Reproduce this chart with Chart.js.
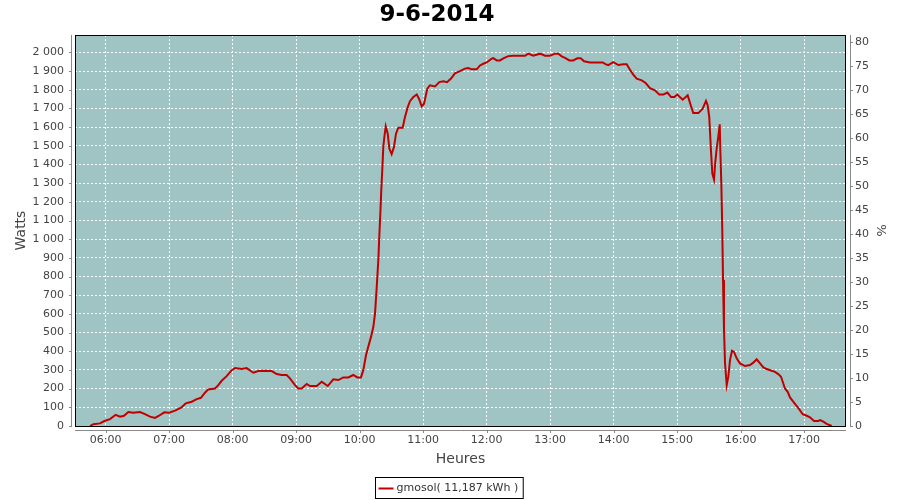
<!DOCTYPE html>
<html>
<head>
<meta charset="utf-8">
<script src="https://cdn.jsdelivr.net/npm/chart.js@4/dist/chart.umd.min.js"></script>
<style>
html,body{margin:0;padding:0;background:#fff;}
#wrap{position:relative;width:900px;height:500px;}
</style>
</head>
<body>
<div id="wrap"><canvas id="c" width="900" height="500"></canvas></div>
<script>
// ---- data ----
const chartTitle = '9-6-2014';
const seriesName = 'gmosol( 11,187 kWh )';
const xAxisTitle = 'Heures';
const yAxisTitle = 'Watts';
const y2AxisTitle = '%';

// time of each sample, in minutes since midnight
const timeMin = [
  345.2, 348.3, 354.6, 359.3, 364.1, 369.4, 373.5, 377.3, 381.4, 386.1,
  392.4, 397.1, 401.9, 406.6, 410.4, 415.4, 419.8, 425.5, 431.2, 435.6,
  441.3, 446.0, 450.0, 453.8, 456.9, 463.3, 466.4, 469.6, 474.3, 479.1,
  482.2, 488.5, 493.2, 499.5, 504.2, 509.9, 516.9, 521.6, 526.3, 531.0,
  534.1, 538.9, 542.0, 545.2, 549.9, 553.0, 559.4, 564.1, 569.8, 575.1,
  579.8, 584.5, 589.2, 594.0, 597.7, 601.2, 603.4, 606.0, 608.1, 610.7,
  612.9, 614.5, 616.1, 617.6, 618.5, 619.5, 620.4, 621.4, 622.3, 623.3,
  624.6, 626.5, 628.0, 630.2, 632.4, 634.3, 636.5, 640.6, 642.8, 645.4,
  647.5, 650.7, 653.9, 656.0, 658.6, 660.8, 663.9, 666.4, 671.2, 675.2,
  679.0, 682.5, 686.3, 690.0, 694.7, 699.4, 702.6, 705.8, 710.5, 713.7,
  716.8, 720.0, 724.7, 726.2, 729.5, 732.6, 735.7, 740.4, 745.1, 756.2,
  759.3, 764.0, 770.4, 775.1, 779.8, 784.6, 787.7, 790.9, 794.0, 798.1,
  801.8, 805.6, 808.8, 812.0, 817.6, 829.6, 832.7, 834.9, 839.6, 844.4,
  849.1, 852.3, 855.4, 858.5, 861.7, 866.5, 870.2, 874.3, 879.0, 883.1,
  886.9, 890.7, 894.2, 897.3, 900.1, 905.2, 909.9, 912.8, 915.2, 920.0,
  924.1, 927.2, 928.8, 930.3, 931.9, 933.2, 934.8, 936.0, 937.3, 938.8,
  940.2, 940.7, 941.7, 942.6, 943.3, 944.2, 945.2, 946.8, 948.3, 949.9,
  951.8, 953.7, 956.2, 959.3, 964.1, 968.8, 971.9, 975.1, 978.3, 981.4,
  984.6, 989.3, 992.4, 995.5, 998.1, 999.7, 1001.8, 1004.4, 1006.6, 1009.1,
  1012.2, 1015.4, 1018.6, 1022.4, 1025.5, 1029.3, 1033.3, 1035.0, 1038.1, 1041.3,
  1046.0
];

const watts = [
  0, 10, 14, 28, 37, 60, 50, 55, 75, 71,
  75, 64, 50, 43, 55, 73, 71, 82, 98, 121,
  130, 144, 151, 178, 196, 201, 219, 242, 267, 299,
  310, 305, 310, 285, 294, 296, 294, 278, 273, 273,
  255, 219, 201, 201, 225, 214, 214, 237, 214, 250,
  246, 260, 260, 273, 260, 260, 299, 380, 424, 477,
  531, 603, 745, 888, 1012, 1137, 1262, 1378, 1494, 1547,
  1604, 1565, 1485, 1455, 1494, 1565, 1597, 1597, 1654, 1707,
  1739, 1761, 1775, 1752, 1711, 1725, 1806, 1824, 1818, 1841,
  1845, 1840, 1860, 1888, 1900, 1913, 1916, 1909, 1909, 1930,
  1939, 1946, 1966, 1969, 1957, 1957, 1968, 1980, 1982, 1982,
  1993, 1982, 1993, 1982, 1982, 1993, 1993, 1979, 1971, 1957,
  1957, 1968, 1968, 1952, 1946, 1946, 1936, 1932, 1948, 1932,
  1936, 1936, 1907, 1881, 1859, 1850, 1836, 1809, 1797, 1774,
  1774, 1785, 1761, 1761, 1774, 1747, 1770, 1717, 1675, 1675,
  1699, 1740, 1717, 1654, 1476, 1351, 1319, 1413, 1485, 1547,
  1615, 1485, 1298, 1048, 781, 522, 335, 219, 264, 353,
  403, 397, 362, 335, 321, 326, 339, 357, 335, 314,
  305, 296, 290, 278, 264, 237, 201, 183, 153, 134,
  112, 89, 63, 55, 47, 27, 27, 32, 23, 11,
  0
];

// axis ticks
const hourTicks = [6, 7, 8, 9, 10, 11, 12, 13, 14, 15, 16, 17];
const wattTicks = [0, 100, 200, 300, 400, 500, 600, 700, 800, 900, 1000,
  1100, 1200, 1300, 1400, 1500, 1600, 1700, 1800, 1900, 2000];
const percentTicks = [0, 5, 10, 15, 20, 25, 30, 35, 40, 45, 50, 55, 60, 65, 70, 75, 80];
const xMinMinutes = 331;
const xMaxMinutes = 1059.5;
const wattMax = 2093;
const percentMax = 81.5;

// ---- helpers ----
const pad2 = n => (n < 10 ? '0' : '') + n;
const fmtWatts = v => {
  v = Math.round(v);
  if (v >= 1000) {
    const r = v % 1000;
    return Math.floor(v / 1000) + ' ' + (r < 10 ? '00' : r < 100 ? '0' : '') + r;
  }
  return String(v);
};

const FONT = 'DejaVu Sans';
const TICK_COLOR = '#444444';
const PLOT_BG = '#9fc4c3';
const LINE_COLOR = '#c00000';

const decorPlugin = {
  id: 'decor',
  beforeDraw(chart) {
    const {ctx, chartArea: a} = chart;
    ctx.save();
    ctx.fillStyle = PLOT_BG;
    ctx.fillRect(a.left, a.top, a.right - a.left, a.bottom - a.top);
    ctx.restore();
  },
  afterDraw(chart) {
    const {ctx, chartArea: a} = chart;
    const sx = chart.scales.x, sy = chart.scales.y, sy2 = chart.scales.y1;
    ctx.save();
    // plot outline
    ctx.strokeStyle = '#000';
    ctx.lineWidth = 1;
    ctx.strokeRect(a.left + 0.5, a.top + 0.5, a.right - a.left - 1, a.bottom - a.top);
    // offset axis lines
    ctx.strokeStyle = '#888888';
    ctx.beginPath();
    const lx = a.left - 3.5, rx = a.right + 4.5, by = a.bottom + 4.5;
    ctx.moveTo(lx, a.top); ctx.lineTo(lx, a.bottom + 1);
    ctx.moveTo(rx, a.top); ctx.lineTo(rx, a.bottom + 1);
    ctx.moveTo(a.left, by); ctx.lineTo(a.right, by);
    sy.ticks.forEach(t => {
      const p = Math.round(sy.getPixelForValue(t.value)) + 0.5;
      ctx.moveTo(lx - 2.5, p); ctx.lineTo(lx, p);
    });
    sy2.ticks.forEach(t => {
      const p = Math.round(sy2.getPixelForValue(t.value)) + 0.5;
      ctx.moveTo(rx, p); ctx.lineTo(rx + 2.5, p);
    });
    sx.ticks.forEach(t => {
      const p = Math.round(sx.getPixelForValue(t.value)) + 0.5;
      ctx.moveTo(p, by); ctx.lineTo(p, by + 2.5);
    });
    ctx.stroke();

    // chart title
    ctx.fillStyle = '#000';
    ctx.font = 'bold 23px "' + FONT + '"';
    ctx.textAlign = 'center';
    ctx.textBaseline = 'middle';
    ctx.fillText(chartTitle, 437, 15);

    // legend
    ctx.font = '11px "' + FONT + '"';
    const tw = ctx.measureText(seriesName).width;
    const bx = 375.5, byy = 477.5, bw = 22 + tw + 4, bh = 21;
    ctx.fillStyle = '#fff';
    ctx.fillRect(bx, byy, bw, bh);
    ctx.strokeStyle = '#000';
    ctx.lineWidth = 1;
    ctx.strokeRect(bx, byy, bw, bh);
    ctx.strokeStyle = LINE_COLOR;
    ctx.lineWidth = 2;
    ctx.beginPath();
    ctx.moveTo(bx + 3, byy + 11); ctx.lineTo(bx + 18, byy + 11);
    ctx.stroke();
    ctx.fillStyle = '#333';
    ctx.textAlign = 'left';
    ctx.fillText(seriesName, bx + 21, byy + 11);
    ctx.restore();
  }
};

new Chart(document.getElementById('c'), {
  type: 'line',
  data: {
    datasets: [{
      label: seriesName,
      data: timeMin.map((t, i) => ({x: t, y: watts[i]})),
      borderColor: LINE_COLOR,
      backgroundColor: LINE_COLOR,
      borderWidth: 2,
      pointRadius: 0,
      tension: 0,
      fill: false,
      yAxisID: 'y'
    }]
  },
  options: {
    responsive: false,
    animation: false,
    devicePixelRatio: 1,
    layout: {padding: {top: 35, left: 0, right: 0, bottom: 0}},
    plugins: {
      legend: {display: false},
      title: {display: false},
      tooltip: {enabled: false}
    },
    scales: {
      x: {
        type: 'linear',
        position: 'bottom',
        min: xMinMinutes,
        max: xMaxMinutes,
        afterBuildTicks: s => { s.ticks = hourTicks.map(h => ({value: h * 60})); },
        afterFit: s => { s.height = 74; },
        ticks: {
          callback: v => pad2(Math.round(v / 60)) + ':00',
          font: {family: FONT, size: 11},
          color: TICK_COLOR,
          padding: 8,
          maxRotation: 0,
          autoSkip: false
        },
        grid: {color: '#ffffff', lineWidth: 1, drawTicks: false},
        border: {display: false, dash: [2, 2]},
        title: {display: true, text: xAxisTitle, font: {family: FONT, size: 14}, color: TICK_COLOR, padding: {top: 0, bottom: 32}}
      },
      y: {
        type: 'linear',
        position: 'left',
        min: 0,
        max: wattMax,
        afterBuildTicks: s => { s.ticks = wattTicks.map(v => ({value: v})); },
        afterFit: s => { s.width = 75; },
        ticks: {
          callback: v => fmtWatts(v),
          font: {family: FONT, size: 11},
          color: TICK_COLOR,
          padding: 11,
          autoSkip: false
        },
        grid: {color: '#ffffff', lineWidth: 1, drawTicks: false},
        border: {display: false, dash: [2, 2]},
        title: {display: true, text: yAxisTitle, font: {family: FONT, size: 14}, color: TICK_COLOR, padding: {top: 13, bottom: 0}}
      },
      y1: {
        type: 'linear',
        position: 'right',
        min: 0,
        max: percentMax,
        afterBuildTicks: s => { s.ticks = percentTicks.map(v => ({value: v})); },
        afterFit: s => { s.width = 54; },
        ticks: {
          font: {family: FONT, size: 11},
          color: TICK_COLOR,
          padding: 9,
          autoSkip: false
        },
        grid: {drawOnChartArea: false, drawTicks: false},
        border: {display: false},
        title: {display: true, text: y2AxisTitle, font: {family: FONT, size: 13}, color: TICK_COLOR, padding: {top: 12, bottom: 0}}
      }
    }
  },
  plugins: [decorPlugin]
});
</script>
</body>
</html>
